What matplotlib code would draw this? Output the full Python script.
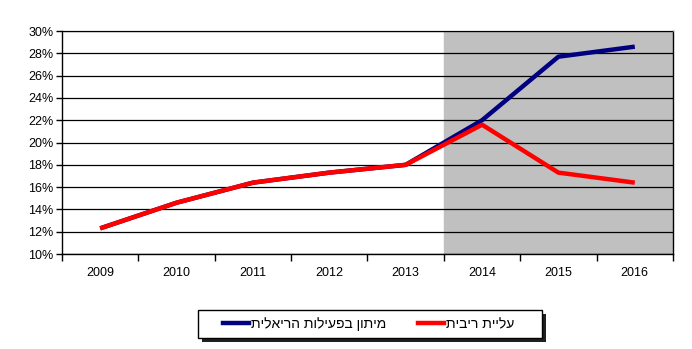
import matplotlib.pyplot as plt
from matplotlib.patches import Rectangle
from matplotlib.ticker import FixedLocator, PercentFormatter

years = ['2009', '2010', '2011', '2012', '2013', '2014', '2015', '2016']
recession = [12.3, 14.6, 16.4, 17.3, 18.0, 22.0, 27.7, 28.6]
rate_hike = [12.3, 14.6, 16.4, 17.3, 18.0, 21.6, 17.3, 16.4]

label_recession = 'מיתון בפעילות הריאלית'
label_rate = 'עליית ריבית'


def rtl(s):
    # matplotlib has no bidi support, so flip Hebrew text by hand
    return s[::-1]


plt.rcParams['font.family'] = ['Liberation Sans', 'DejaVu Sans']

fig = plt.figure(figsize=(6.92, 3.49), dpi=100)
ax = fig.add_axes([0.0896, 0.2722, 0.8829, 0.6388])

x = list(range(len(years)))
ax.axvspan(4.5, 7.5, color='#c0c0c0', zorder=0)
ax.plot(x, recession, color='#000080', lw=3.2, solid_capstyle='butt', zorder=3)
ax.plot(x, rate_hike, color='#ff0000', lw=3.2, solid_capstyle='butt', zorder=4)

ax.set_xlim(-0.5, 7.5)
ax.set_ylim(10, 30)
ax.set_yticks(range(10, 31, 2))
ax.yaxis.set_major_formatter(PercentFormatter(decimals=0))
ax.grid(axis='y', color='black', lw=0.9, zorder=1)
ax.set_axisbelow(False)

ax.set_xticks(x)
ax.set_xticklabels(years)
ax.xaxis.set_minor_locator(FixedLocator([i - 0.5 for i in range(len(years) + 1)]))
ax.tick_params(axis='x', which='major', length=0, pad=9, labelsize=9)
ax.tick_params(axis='x', which='minor', length=5, width=1, direction='out')
ax.tick_params(axis='y', length=4, width=1, direction='out', pad=2, labelsize=9)

for side in ['left', 'bottom', 'right']:
    ax.spines[side].set_color('black')
    ax.spines[side].set_linewidth(1)
ax.spines['top'].set_color('#808080')
ax.spines['top'].set_linewidth(1)

# legend box with a drop shadow, drawn in figure coordinates
bx, by, bw, bh = 198 / 692, 1 - 338 / 349, 344 / 692, 28 / 349
dx, dy = 4 / 692, 4 / 349
fig.patches.append(Rectangle((bx + dx, by - dy), bw, bh, transform=fig.transFigure,
                             facecolor='#202020', edgecolor='none', zorder=1))
fig.patches.append(Rectangle((bx, by), bw, bh, transform=fig.transFigure,
                             facecolor='white', edgecolor='black', lw=1, zorder=2))

h1, = ax.plot([], [], color='#000080', lw=3.2)
h2, = ax.plot([], [], color='#ff0000', lw=3.2)
fig.legend([h1, h2], [rtl(label_recession), rtl(label_rate)],
           loc='center', bbox_to_anchor=(bx + bw / 2 - 0.002, by + bh / 2), ncol=2,
           frameon=False, fontsize=10, handlelength=1.9, handletextpad=0.1,
           columnspacing=2.3)

fig.savefig('out.png', dpi=100)
